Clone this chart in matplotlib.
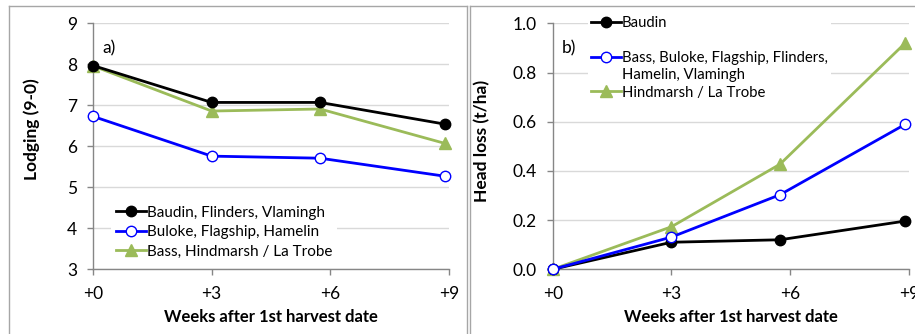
import matplotlib
matplotlib.use("Agg")
import matplotlib.pyplot as plt
from matplotlib.lines import Line2D

plt.rcParams['font.family'] = ['Lato', 'DejaVu Sans']

# sampling times (weeks after 1st harvest date)
weeks = [0, 3, 5.74, 8.9]
tick_pos = [0, 3, 6, 9]
tick_labels = ['+0', '+3', '+6', '+9']

# a) lodging score
lodg_baudin = [7.97, 7.07, 7.07, 6.54]
lodg_buloke = [6.73, 5.76, 5.71, 5.27]
lodg_bass = [7.96, 6.86, 6.91, 6.07]
lodg_names = ['Baudin, Flinders, Vlamingh', 'Buloke, Flagship, Hamelin',
              'Bass, Hindmarsh / La Trobe']

# b) head loss
loss_baudin = [0.0, 0.11, 0.12, 0.196]
loss_bass = [0.0, 0.131, 0.303, 0.589]
loss_hind = [0.0, 0.173, 0.427, 0.919]
loss_names = ['Baudin', 'Bass, Buloke, Flagship, Flinders,', 'Hamelin, Vlamingh',
              'Hindmarsh / La Trobe']

GREEN = '#9BBB59'
GRID = '#D9D9D9'
AXC = '#868686'

W, H = 915, 334
fig = plt.figure(figsize=(W / 100, H / 100), dpi=100)

# panel frames
frame = dict(color='#A6A6A6', lw=1.0, transform=fig.transFigure)
fig.add_artist(Line2D([9 / W, 9 / W], [0, 1 - 6 / H], **frame))
fig.add_artist(Line2D([9 / W, 467 / W], [1 - 6 / H, 1 - 6 / H], **frame))
fig.add_artist(Line2D([467 / W, 467 / W], [0, 1 - 6 / H], **frame))
fig.add_artist(Line2D([470 / W, 470 / W], [0, 1 - 6 / H], **frame))
fig.add_artist(Line2D([470 / W, 1], [1 - 6 / H, 1 - 6 / H], **frame))

bot = (H - 269.3) / H
hgt = 246 / H
ax1 = fig.add_axes([93 / W, bot, 356 / W, hgt])
ax2 = fig.add_axes([552.7 / W, bot, 356.3 / W, hgt])


def style(ax):
    ax.set_xlim(0, 9)
    ax.set_xticks(tick_pos)
    ax.set_xticklabels(tick_labels)
    ax.grid(axis='y', color=GRID, lw=1.0)
    ax.set_axisbelow(True)
    for s in ['top', 'right']:
        ax.spines[s].set_visible(False)
    for s in ['left', 'bottom']:
        ax.spines[s].set_color(AXC)
        ax.spines[s].set_linewidth(1.0)
    ax.tick_params(axis='both', colors=AXC, labelcolor='black', labelsize=12.5,
                   length=4.3, width=1.0)
    ax.tick_params(axis='x', pad=8)
    ax.tick_params(axis='y', pad=7)
    ax.set_xlabel('Weeks after 1st harvest date', fontsize=12, fontweight='bold',
                  labelpad=5)
    for lab in ax.get_xticklabels() + ax.get_yticklabels():
        lab.set_clip_on(False)


def white_legend(leg):
    leg.get_frame().set_edgecolor('none')
    leg.get_frame().set_facecolor('white')
    leg.get_frame().set_alpha(1)


lw = 2.0
ax1.plot(weeks, lodg_baudin, color='black', lw=lw, marker='o', ms=7.5,
         label=lodg_names[0], clip_on=False, zorder=5)
ax1.plot(weeks, lodg_buloke, color='#0000FF', lw=lw, marker='o', ms=7.5,
         mfc='white', mec='#0000FF', mew=1.0, label=lodg_names[1], clip_on=False, zorder=4)
ax1.plot(weeks, lodg_bass, color=GREEN, lw=lw, marker='^', ms=8.5,
         label=lodg_names[2], clip_on=False, zorder=4)
style(ax1)
ax1.set_ylim(3, 9)
ax1.set_yticks(range(3, 10))
ax1.set_ylabel('Lodging (9-0)', fontsize=12.5, fontweight='bold')
ax1.yaxis.set_label_coords(-0.15, 0.568)
ax1.text(0.025, 0.9, 'a)', transform=ax1.transAxes, fontsize=12.5, va='center',
         zorder=10)
leg1 = ax1.legend(loc='upper left', bbox_to_anchor=(0.042, 0.289), frameon=True,
                  fontsize=11, handlelength=2.0, handletextpad=0.05,
                  labelspacing=0.35, borderpad=0.3, borderaxespad=0.2)
white_legend(leg1)

ax2.plot(weeks, loss_baudin, color='black', lw=lw, marker='o', ms=7.5,
         clip_on=False, zorder=4)
ax2.plot(weeks, loss_bass, color='#0000FF', lw=lw, marker='o', ms=7.5,
         mfc='white', mec='#0000FF', mew=1.0, clip_on=False, zorder=5)
ax2.plot(weeks, loss_hind, color=GREEN, lw=lw, marker='^', ms=8.5,
         clip_on=False, zorder=3)
style(ax2)
ax2.set_ylim(0, 1.0)
ax2.set_yticks([0, 0.2, 0.4, 0.6, 0.8, 1.0])
ax2.set_yticklabels(['0.0', '0.2', '0.4', '0.6', '0.8', '1.0'])
ax2.set_ylabel('Head loss (t/ha)', fontsize=12.5, fontweight='bold')
ax2.yaxis.set_label_coords(-0.174, 0.52)

h_b = Line2D([], [], color='black', lw=lw, marker='o', ms=7.5)
h_bl = Line2D([], [], color='#0000FF', lw=lw, marker='o', ms=7.5, mfc='white',
              mec='#0000FF', mew=1.0)
h_g = Line2D([], [], color=GREEN, lw=lw, marker='^', ms=8.5)
h_none = Line2D([], [], color='none')
leg2 = ax2.legend([h_b, h_none, h_bl, h_none, h_g],
                  [loss_names[0], '', loss_names[1], loss_names[2], loss_names[3]],
                  loc='upper left', bbox_to_anchor=(0.1, 1.04), frameon=True,
                  fontsize=10.7, handlelength=2.0, handletextpad=0.05,
                  labelspacing=0.22, borderpad=0.2, borderaxespad=0.0)
white_legend(leg2)
leg2.set_zorder(6)
ax2.text(0.025, 0.9, 'b)', transform=ax2.transAxes, fontsize=12.5, va='center',
         zorder=10)

fig.savefig('out.png', dpi=100)
